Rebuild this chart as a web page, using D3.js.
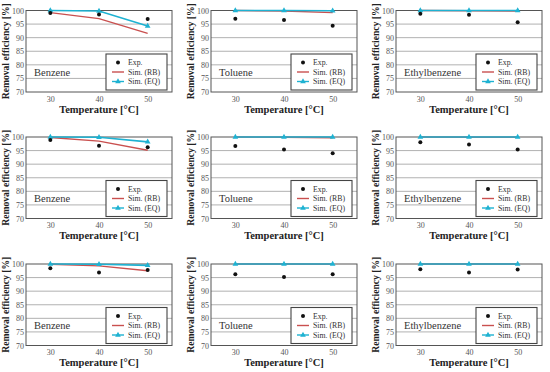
<!DOCTYPE html>
<html><head><meta charset="utf-8">
<script src="https://cdn.jsdelivr.net/npm/d3@7"></script>
<style>body{margin:0;background:#fff}svg{display:block}
svg text{font-family:"Liberation Serif","Times New Roman","DejaVu Serif",serif}</style>
</head><body>
<svg id="c" width="550" height="372"></svg>
<script>
const compounds = ["Benzene", "Toluene", "Ethylbenzene"];
const temperatures = [30, 40, 50];
const yTicks = [70, 75, 80, 85, 90, 95, 100];
const legendLabels = ["Exp.", "Sim. (RB)", "Sim. (EQ)"];
const xLabel = "Temperature [°C]";
const yLabel = "Removal efficiency [%]";

// row 1
const exp1 = [[99.1, 98.5, 96.9], [97.0, 96.5, 94.4], [98.8, 98.4, 95.7]];
const rb1  = [[99.2, 97.0, 91.6], [100, 99.8, 99.2], [100, 99.9, 99.8]];
const eq1  = [[100, 99.8, 94.3], [100, 100, 99.9], [100, 100, 100]];
// row 2
const exp2 = [[98.9, 96.8, 96.2], [96.7, 95.4, 94.0], [98.1, 97.2, 95.4]];
const rb2  = [[99.8, 98.5, 95.1], [100, 99.9, 99.7], [100, 99.9, 99.9]];
const eq2  = [[100, 99.9, 98.2], [100, 100, 100], [100, 100, 100]];
// row 3
const exp3 = [[98.4, 96.9, 97.8], [96.2, 95.2, 96.2], [98.1, 96.9, 98.0]];
const rb3  = [[99.9, 99.3, 97.5], [100, 100, 99.9], [100, 100, 100]];
const eq3  = [[100, 99.9, 99.5], [100, 100, 100], [100, 100, 100]];

const rows = [[exp1, rb1, eq1], [exp2, rb2, eq2], [exp3, rb3, eq3]];

const svg = d3.select("#c");
const RB = "#c9504f", EQ = "#1eb2d2";
const pw = 146, ph = 81.5;
const colX = [26, 211, 396];
const rowY = [10.5, 137, 264];

rows.forEach((row, ri) => {
  compounds.forEach((name, ci) => {
    const ox = colX[ci], oy = rowY[ri];
    const g = svg.append("g").attr("transform", `translate(${ox},${oy})`);
    const x = d3.scaleLinear().domain([25, 55]).range([0, pw]);
    const y = d3.scaleLinear().domain([70, 100]).range([ph, 0]);

    g.append("g").selectAll("line").data(yTicks.slice(1, -1)).join("line")
      .attr("x1", 0).attr("x2", pw).attr("y1", d => y(d)).attr("y2", d => y(d))
      .attr("stroke", "#a8a8a8").attr("stroke-width", 0.9);

    const ya = g.append("g").call(d3.axisLeft(y).tickValues(yTicks).tickSize(0).tickPadding(2));
    ya.select(".domain").remove();
    ya.attr("font-family", null);
    ya.selectAll("text").attr("font-size", 8).attr("fill", "#555");
    const xa = g.append("g").attr("transform", `translate(0,${ph})`)
      .call(d3.axisBottom(x).tickValues(temperatures).tickSize(0).tickPadding(4));
    xa.select(".domain").remove();
    xa.attr("font-family", null);
    xa.selectAll("text").attr("font-size", 8).attr("fill", "#555");

    g.append("rect").attr("x", 0).attr("y", 0).attr("width", pw).attr("height", ph)
      .attr("fill", "none").attr("stroke", "#555").attr("stroke-width", 1);

    g.append("text").attr("x", pw / 2).attr("y", ph + 20.5).attr("text-anchor", "middle")
      .attr("font-weight", "bold").attr("font-size", 10.5)
      .attr("fill", "#222").text(xLabel);
    g.append("text").attr("transform", `translate(-17,${ph / 2}) rotate(-90)`)
      .attr("text-anchor", "middle").attr("font-weight", "bold")
      .attr("font-size", 9.6).attr("fill", "#222").text(yLabel);

    const [ex, rb, eq] = row;
    const line = d3.line().x((d, i) => x(temperatures[i])).y(d => y(d));
    g.append("path").datum(rb[ci]).attr("d", line).attr("fill", "none")
      .attr("stroke", RB).attr("stroke-width", 1.4);
    g.append("path").datum(eq[ci]).attr("d", line).attr("fill", "none")
      .attr("stroke", EQ).attr("stroke-width", 1.6);
    const tri = d3.symbol().type(d3.symbolTriangle).size(14);
    g.append("g").selectAll("path").data(eq[ci]).join("path")
      .attr("d", tri).attr("transform", (d, i) => `translate(${x(temperatures[i])},${y(d)})`)
      .attr("fill", EQ);
    g.append("g").selectAll("circle").data(ex[ci]).join("circle")
      .attr("cx", (d, i) => x(temperatures[i])).attr("cy", d => y(d)).attr("r", 2)
      .attr("fill", "#111");

    g.append("text").attr("x", 8).attr("y", 65)
      .attr("font-size", 10.5).attr("fill", "#333").text(name);

    const lg = g.append("g").attr("transform", "translate(80,43.5)");
    lg.append("rect").attr("width", 61).attr("height", 36).attr("fill", "#fff")
      .attr("stroke", "#444").attr("stroke-width", 1.1);
    legendLabels.forEach((lab, li) => {
      const yy = 8.5 + li * 9.5;
      if (li === 0) {
        lg.append("circle").attr("cx", 12).attr("cy", yy).attr("r", 2).attr("fill", "#111");
      } else {
        lg.append("line").attr("x1", 6).attr("x2", 18).attr("y1", yy).attr("y2", yy)
          .attr("stroke", li === 1 ? RB : EQ).attr("stroke-width", 1.4);
        if (li === 2) lg.append("path").attr("d", tri)
          .attr("transform", `translate(12,${yy})`).attr("fill", EQ);
      }
      lg.append("text").attr("x", 22).attr("y", yy + 2.8)
        .attr("font-size", 7.8).attr("fill", "#333").text(lab);
    });
  });
});
</script>
</body></html>
